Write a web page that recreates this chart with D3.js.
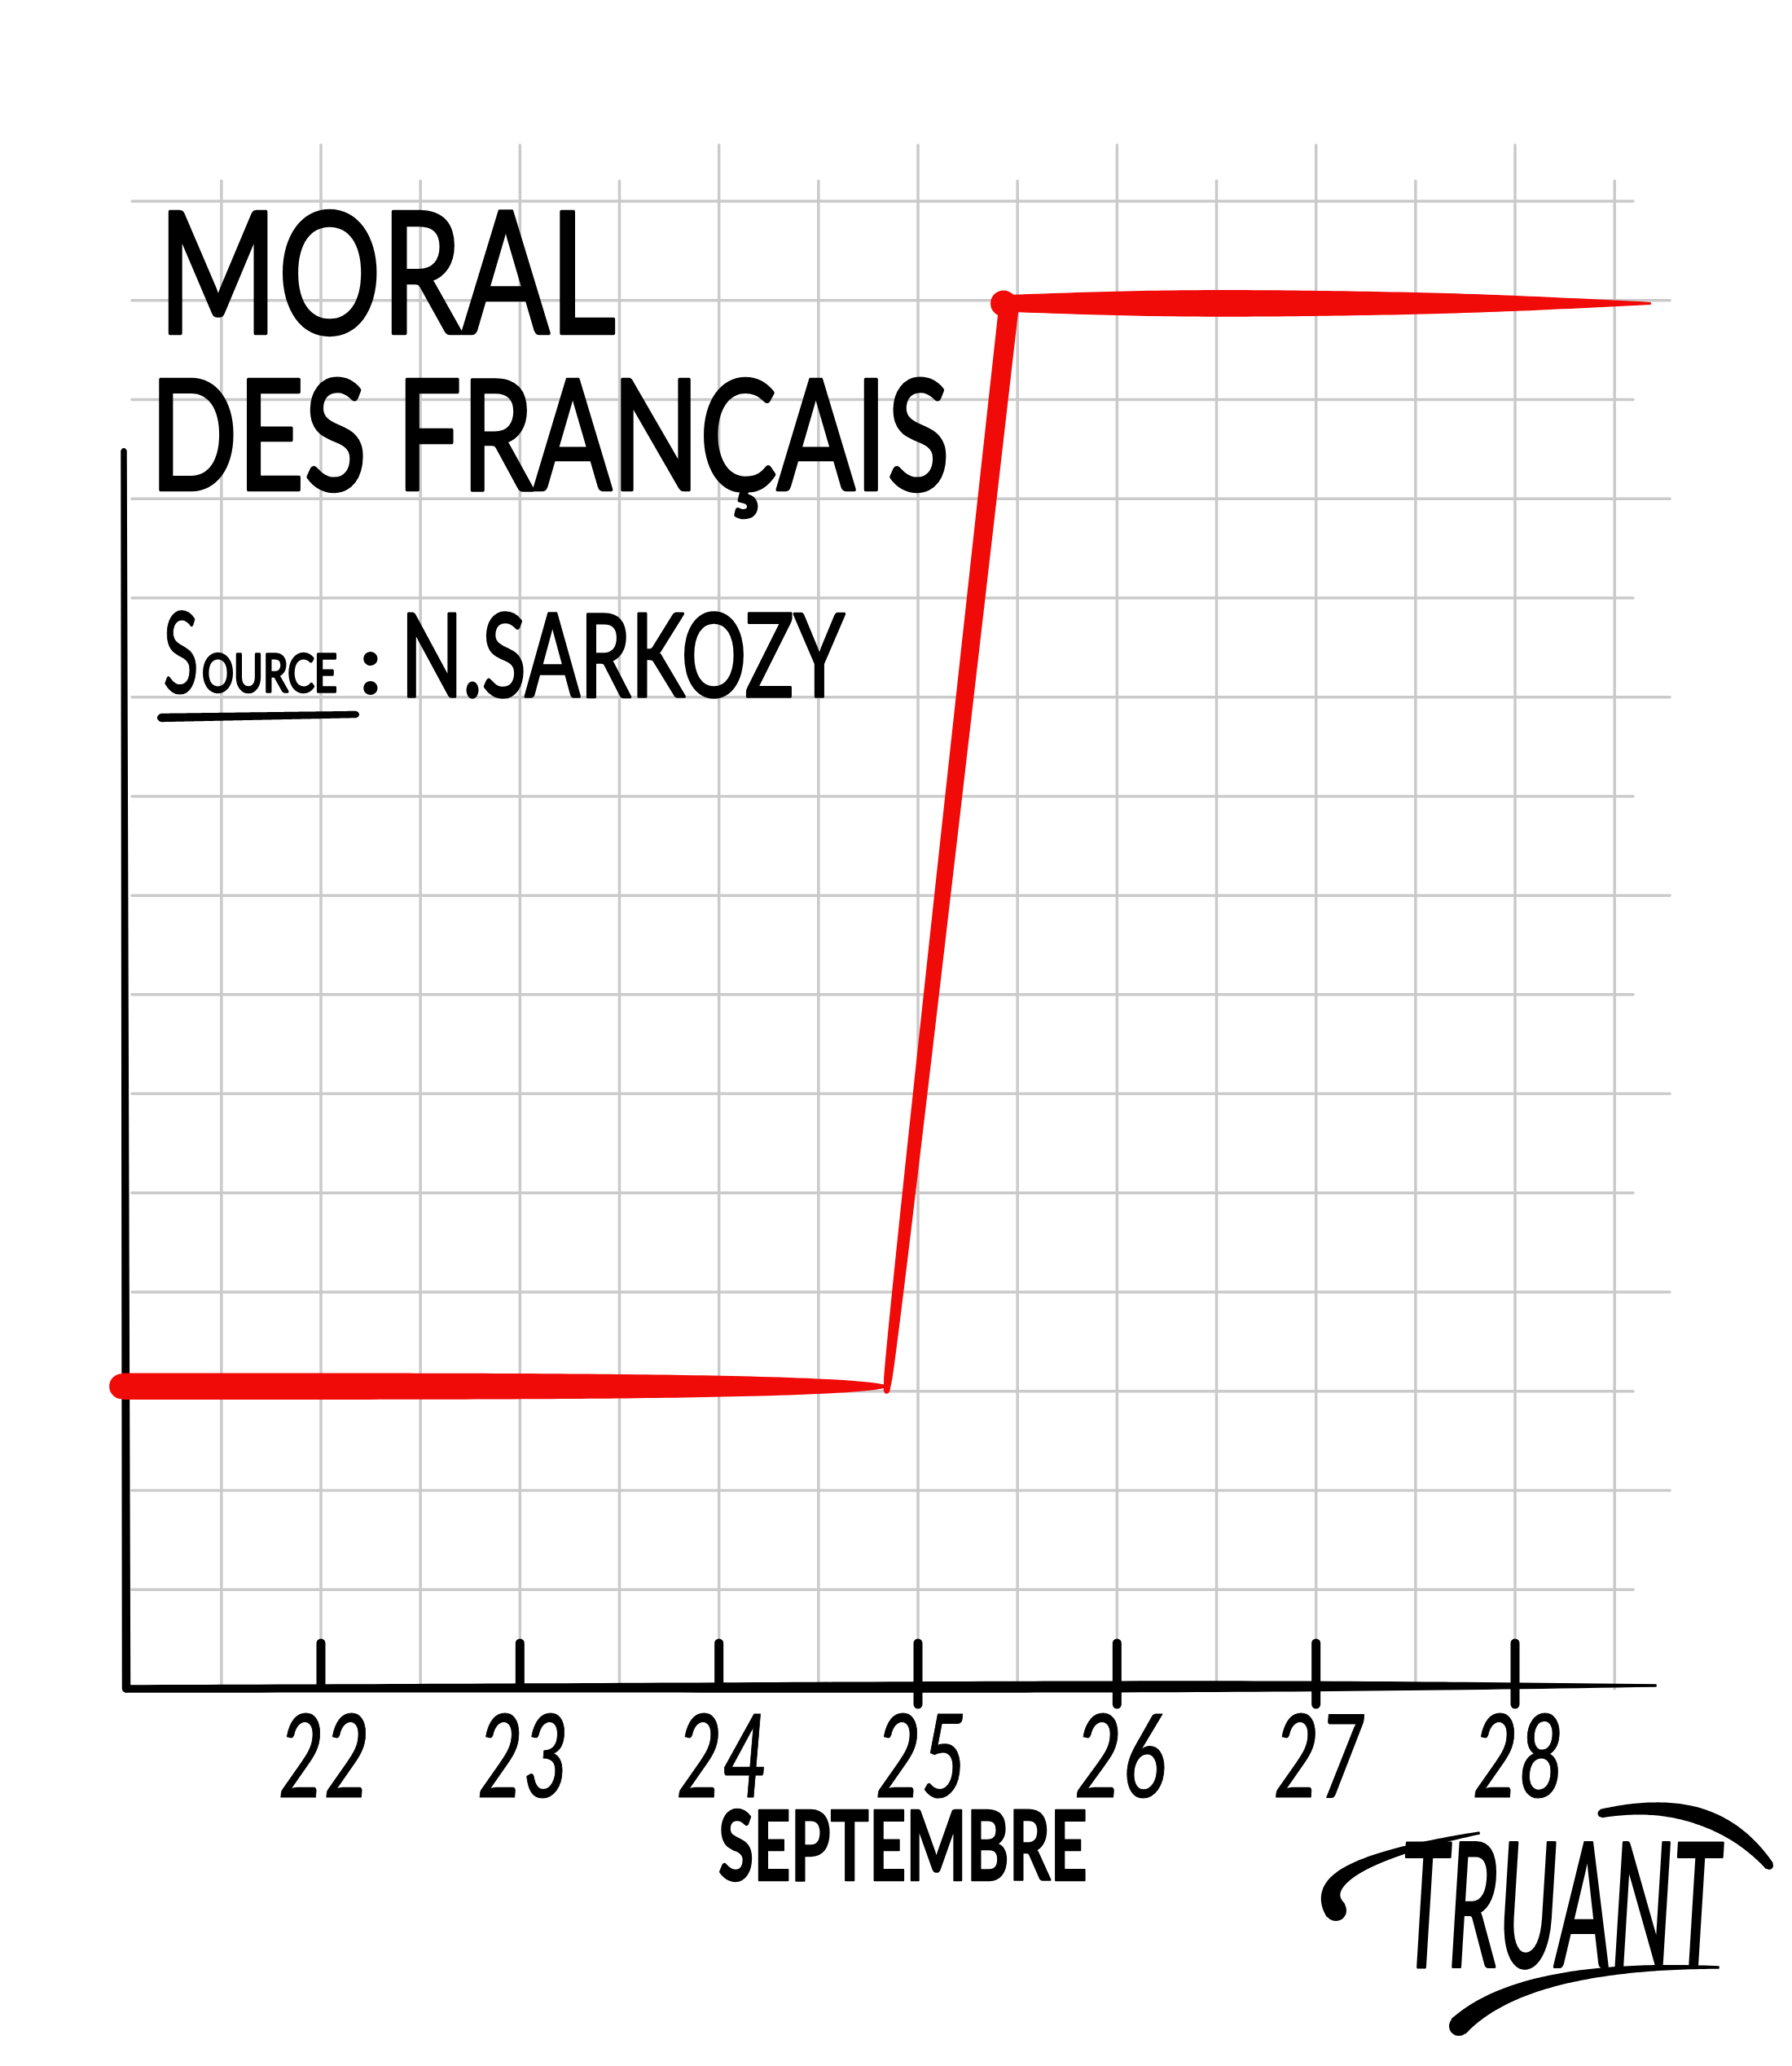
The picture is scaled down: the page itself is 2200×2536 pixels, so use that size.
<!DOCTYPE html>
<html><head><meta charset="utf-8">
<script src="https://cdn.jsdelivr.net/npm/d3@7"></script>
<style>body{margin:0;background:#fff}svg{display:block}</style>
</head><body>
<svg id="c" width="2200" height="2536"></svg>
<script>
// ---------------- data ----------------
const tickDays   = [22, 23, 24, 25, 26, 27, 28];
const tickLabels = ["22", "23", "24", "25", "26", "27", "28"];
const lineDays   = [21.0, 24.83, 25.43, 28.68];   // stroke knots (days)
const lineMoral  = [3.05, 3.05, 13.97, 13.97];    // moral level at knots
const gridDays   = [21.5, 22, 22.5, 23, 23.5, 24, 24.5, 25, 25.5, 26, 26.5, 27, 27.5, 28, 28.5];
const gridMoral  = [1, 2, 3, 4, 5, 6, 7, 8, 9, 10, 11, 12, 13, 14, 15];
const title1 = "MORAL";
const title2 = "DES FRANÇAIS";
const sourceHead = "S", sourceTail = "OURCE", sourceName = "N.SARKOZY";
const monthLabel = "SEPTEMBRE";
const signature = "TRUANT";

// ---------------- setup ----------------
const svg = d3.select("#c");
svg.append("rect").attr("width", 2200).attr("height", 2536).attr("fill", "#fff");
const x = d3.scaleLinear().domain([22, 28]).range([394, 1860]);
const y = d3.scaleLinear().domain([0, 15]).range([2073, 247]);
const RED = "#f00a08", GRID = "#cacaca", INK = "#000";
const FONT = "Lato, 'Open Sans', 'DejaVu Sans', sans-serif";

// tapered brush stroke along a parametric curve
function brushPath(pt, wfn, n = 80) {
  const L = [], R = [];
  for (let i = 0; i <= n; i++) {
    const t = i / n, p = pt(t);
    const a = pt(Math.max(0, t - 0.002)), b = pt(Math.min(1, t + 0.002));
    const dx = b[0] - a[0], dy = b[1] - a[1], len = Math.hypot(dx, dy) || 1;
    const nx = -dy / len, ny = dx / len, w = wfn(t) / 2;
    L.push([p[0] + nx * w, p[1] + ny * w]);
    R.push([p[0] - nx * w, p[1] - ny * w]);
  }
  return d3.line()(L.concat(R.reverse())) + "Z";
}
const seg = (p0, p1) => t => [p0[0] + (p1[0] - p0[0]) * t, p0[1] + (p1[1] - p0[1]) * t];
const quad = (p0, c, p1) => t => {
  const u = 1 - t;
  return [u * u * p0[0] + 2 * u * t * c[0] + t * t * p1[0], u * u * p0[1] + 2 * u * t * c[1] + t * t * p1[1]];
};
function stroke(g, pt, wfn, color, capStart, capEnd) {
  g.append("path").attr("d", brushPath(pt, wfn)).attr("fill", color)
    .attr("stroke", color).attr("stroke-width", 1.5).attr("stroke-linejoin", "round");
  if (capStart) { const p = pt(0); g.append("circle").attr("cx", p[0]).attr("cy", p[1]).attr("r", wfn(0) / 2).attr("fill", color); }
  if (capEnd) { const p = pt(1); g.append("circle").attr("cx", p[0]).attr("cy", p[1]).attr("r", wfn(1) / 2).attr("fill", color); }
}
// place a text and squeeze it horizontally to a target width
function fitText(sel, px, py, w) {
  sel.attr("x", 0).attr("y", 0).attr("vector-effect", "non-scaling-stroke");
  const nat = sel.node().getComputedTextLength();
  sel.attr("transform", `translate(${px},${py}) scale(${w / nat},1)`);
  return sel;
}

// ---------------- grid ----------------
const grid = svg.append("g").attr("stroke", GRID).attr("stroke-width", 3.5).attr("stroke-linecap", "round");
grid.selectAll("line.v").data(gridDays).join("line")
  .attr("x1", d => x(d)).attr("x2", d => x(d))
  .attr("y1", d => Number.isInteger(d) ? 178 : 222).attr("y2", y(0));
grid.selectAll("line.h").data(gridMoral).join("line")
  .attr("x1", 162).attr("x2", d => d % 2 === 0 ? 2050 : 2005)
  .attr("y1", d => y(d)).attr("y2", d => y(d));

// ---------------- axes ----------------
const axes = svg.append("g");
const x0 = 154, xEnd = 2033;
stroke(axes, seg([152, 553], [155, y(0)]), t => 6 + 3 * t, INK, true, true);
const xw = d3.interpolateBasis([8, 9, 11, 13, 12, 2]);
stroke(axes, seg([x0, y(0)], [xEnd, y(0) - 4]), xw, INK, true, false);
axes.selectAll("line.tick").data(tickDays).join("line")
  .attr("x1", d => x(d)).attr("x2", d => x(d))
  .attr("y1", 2017).attr("y2", d => d < 25 ? 2070 : 2092)
  .attr("stroke", INK).attr("stroke-width", 11).attr("stroke-linecap", "round");
tickDays.forEach((d, i) => {
  const t = axes.append("text")
    .attr("text-anchor", "middle").attr("font-family", FONT).attr("font-style", "italic")
    .attr("font-weight", 400).attr("font-size", 142)
    .attr("fill", INK).attr("stroke", INK).attr("stroke-width", 1).attr("stroke-linejoin", "round")
    .text(tickLabels[i]);
  fitText(t, x(d) + 4, 2206, 112);
});
fitText(axes.append("text")
  .attr("font-family", FONT).attr("font-weight", 700).attr("font-size", 118)
  .attr("fill", INK).attr("stroke", INK).attr("stroke-width", 2).attr("stroke-linejoin", "round")
  .text(monthLabel), 882, 2308, 453);

// ---------------- red moral line ----------------
const P = lineDays.map((d, i) => [x(d), y(lineMoral[i])]);
const red = svg.append("g");
// low plateau (lens shape tapering to the right)
stroke(red, seg(P[0], P[1]), t => Math.max(3, 31 * Math.sqrt(Math.max(0, 1 - Math.pow(t, 4)))), RED, true, false);
// the rise
stroke(red, seg([P[1][0] + 3, P[1][1] + 6], [P[2][0] + 6, P[2][1] + 8]), t => 6 + 17 * Math.pow(t, 0.4), RED, true, false);
// high plateau
const hw = d3.interpolateBasis([19, 33, 30, 22, 1.5]);
stroke(red, seg(P[2], P[3]), hw, RED, false, false);
red.append("circle").attr("cx", P[2][0]).attr("cy", P[2][1]).attr("r", 16).attr("fill", RED);

// ---------------- titles ----------------
const tg = svg.append("g").attr("font-family", FONT).attr("fill", INK)
  .attr("stroke", INK).attr("stroke-linejoin", "round").attr("stroke-linecap", "round");
fitText(tg.append("text").attr("font-size", 208).attr("font-weight", 400)
  .attr("stroke-width", 4).text(title1), 194, 409, 562);
fitText(tg.append("text").attr("font-size", 188).attr("font-weight", 400)
  .attr("stroke-width", 4).text(title2), 184, 601, 982);
fitText(tg.append("text").attr("font-size", 140).attr("font-weight", 400)
  .attr("stroke-width", 1).text(sourceHead), 200, 851, 44);
fitText(tg.append("text").attr("font-size", 64).attr("font-weight", 400)
  .attr("stroke-width", 3).text(sourceTail), 248, 849, 166);
tg.append("text").attr("x", 442).attr("y", 851).attr("font-size", 100).attr("font-weight", 700)
  .attr("stroke-width", 2).text(":");
fitText(tg.append("text").attr("font-size", 142).attr("font-weight", 400)
  .attr("stroke-width", 3).text(sourceName), 492, 855, 545);
stroke(tg, seg([198, 881], [437, 877]), t => 9 - 2 * t, INK, true, true);

// ---------------- signature ----------------
const sg = svg.append("g");
fitText(sg.append("text").attr("font-family", FONT).attr("font-size", 212)
  .attr("font-style", "italic").attr("font-weight", 400)
  .attr("fill", INK).attr("stroke", INK).attr("stroke-width", 3).attr("stroke-linejoin", "round")
  .text(signature), 1720, 2414, 392);
stroke(sg, quad([1640, 2345], [1600, 2290], [1816, 2250]), t => Math.max(2, 24 * (1 - t) + 2), INK, true, false);
stroke(sg, quad([1966, 2226], [2100, 2200], [2172, 2290]), d3.interpolateBasis([9, 14, 20, 18, 10]), INK, true, true);
stroke(sg, quad([1791, 2487], [1870, 2410], [2110, 2415]), t => Math.max(2, 22 * (1 - t) + 2), INK, true, false);
</script>
</body></html>
